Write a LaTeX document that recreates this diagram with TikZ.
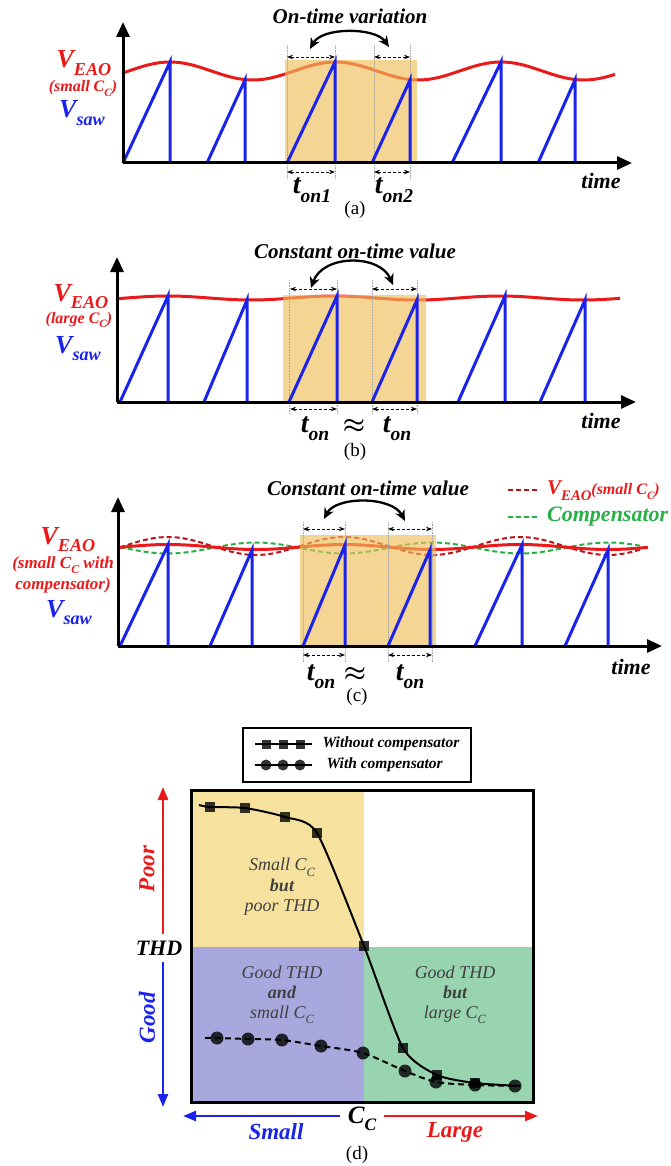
\documentclass[tikz,border=0pt]{standalone}
\usepackage{fontspec}
\setmainfont{Liberation Serif}
\usetikzlibrary{arrows.meta}

\definecolor{eaored}{RGB}{235,25,25}
\definecolor{sawblue}{RGB}{25,35,235}
\definecolor{onyellow}{RGB}{240,190,90}
\definecolor{darkred}{RGB}{185,20,25}
\definecolor{compgreen}{RGB}{40,175,70}
\definecolor{regyellow}{RGB}{246,226,158}
\definecolor{regblue}{RGB}{168,168,222}
\definecolor{reggreen}{RGB}{152,212,176}

\newcommand{\dn}[1]{\raisebox{-0.3em}{\scalebox{0.7}{#1}}}
\newcommand{\fs}[1]{\fontsize{#1}{#1}\selectfont}

\begin{document}
\begin{tikzpicture}[
    x=1pt, y=-1pt,
    axis/.style={line width=3pt, -{Triangle[length=15pt,width=13pt]}},
    saw/.style={draw=sawblue, line width=3pt},
    eao/.style={draw=eaored, line width=3pt},
    onbox/.style={fill=onyellow, fill opacity=0.65},
    guide/.style={draw=gray!70, densely dotted, line width=0.6pt},
    ton/.style={densely dashed, line width=0.9pt, {Stealth[length=6pt]}-{Stealth[length=6pt]}},
    swing/.style={line width=2.3pt, {Stealth[length=11pt,width=10pt]}-{Stealth[length=11pt,width=10pt]}},
    ttl/.style={font=\fs{21}\bfseries\itshape},
    vlab/.style={font=\fs{26}\bfseries\itshape, anchor=base},
    clab/.style={font=\fs{16}\bfseries\itshape, align=center, anchor=base},
    tlab/.style={font=\fs{28}\bfseries\itshape, anchor=base},
    apx/.style={font=\fs{30}\boldmath, anchor=base},
    timelab/.style={font=\fs{22}\bfseries\itshape},
    sublab/.style={font=\fs{19}},
    regtext/.style={font=\fs{18}\itshape, text=black!75, align=center},
    sidelab/.style={font=\fs{23}\bfseries\itshape},
    dir/.style={line width=2.5pt, -{Triangle[length=13pt,width=10pt]}},
    sqmark/.style={fill=black, fill opacity=0.8, minimum size=10pt, inner sep=0pt},
    cmark/.style={circle, fill=black, fill opacity=0.8, minimum size=13pt, inner sep=0pt},
  ]
  \useasboundingbox (0,0) rectangle (670,1166);

  % ============ (a) small C_C ============
  \draw[eao] plot[domain=123:615, samples=120] (\x, {71-9*cos(360/165.5*(\x-170))});
  \fill[onbox] (285,60) rectangle (417,163);
  \foreach \g in {287,335,374,410}
    \draw[guide] (\g,45) -- (\g,178);
  \foreach \a/\b/\c in {123/170/62, 207/245/80, 287/335/62, 372/410/80, 452/501/62, 538/575/80}
    \draw[saw] (\a,163) -- (\b,\c) -- (\b,163);
  \draw[axis] (123,163) -- (123,22);
  \draw[axis] (123,163) -- (632,163);
  \draw[ton] (287,57) -- (335,57);
  \draw[ton] (374,57) -- (410,57);
  \draw[ton] (287,172) -- (335,172);
  \draw[ton] (374,172) -- (410,172);
  \draw[swing] (310,49) .. controls (322,27) and (375,27) .. (389,47);
  \node[ttl] (titA) at (350,16) {On-time variation};
  \node[vlab, text=eaored] (eaoA) at (84,68) {V\dn{EAO}};
  \node[clab, text=eaored] (ccA) at (83,92) {(small C\dn{C})};
  \node[vlab, text=sawblue] (sawA) at (82,118) {V\dn{saw}};
  \node[tlab] (ton1) at (312,194) {t\dn{on1}};
  \node[tlab] (ton2) at (394,194) {t\dn{on2}};
  \node[timelab] (timeA) at (601,181) {time};
  \node[sublab] (capA) at (355,210) {(a)};

  % ============ (b) large C_C ============
  \draw[eao] plot[domain=117:620, samples=120] (\x, {298-2*cos(360/166*(\x-168))});
  \fill[onbox] (283,295) rectangle (426,402);
  \foreach \g in {289,337,372,417}
    \draw[guide] (\g,280) -- (\g,414);
  \foreach \a/\b/\c in {120/168/296, 204/247/300, 289/337/296, 372/417/300, 458/505/296, 540/585/300}
    \draw[saw] (\a,402) -- (\b,\c) -- (\b,402);
  \draw[axis] (117,402) -- (117,257);
  \draw[axis] (117,402) -- (636,402);
  \draw[ton] (290,289) -- (337,289);
  \draw[ton] (372,289) -- (417,289);
  \draw[ton] (290,409) -- (337,409);
  \draw[ton] (372,409) -- (417,409);
  \draw[swing] (311,288) .. controls (323,254) and (380,254) .. (393,285);
  \node[ttl] (titB) at (355,251) {Constant on-time value};
  \node[vlab, text=eaored] (eaoB) at (81,301) {V\dn{EAO}};
  \node[clab, text=eaored] (ccB) at (79,323) {(large C\dn{C})};
  \node[vlab, text=sawblue] (sawB) at (78,353) {V\dn{saw}};
  \node[tlab] (tonB1) at (315,432) {t\dn{on}};
  \node[apx] (apxB) at (354,432) {$\approx$};
  \node[tlab] (tonB2) at (397,432) {t\dn{on}};
  \node[timelab] (timeB) at (601,421) {time};
  \node[sublab] (capB) at (355,452) {(b)};

  % ============ (c) small C_C with compensator ============
  \draw[darkred, line width=2pt, dash pattern=on 5pt off 3pt]
    plot[domain=120:640, samples=120] (\x, {546-9*cos(360/176*(\x-168))});
  \draw[compgreen, line width=2pt, dash pattern=on 5pt off 3pt]
    plot[domain=120:640, samples=120] (\x, {548+5.5*cos(360/176*(\x-168))});
  \draw[eao] plot[domain=118:648, samples=120] (\x, {547-2.5*cos(360/176*(\x-168))});
  \fill[onbox] (300,535) rectangle (436,646);
  \foreach \g in {303,345,388,432}
    \draw[guide] (\g,522) -- (\g,662);
  \foreach \a/\b/\c in {120/168/545, 210/252/550, 303/345/545, 388/430/550, 475/522/545, 565/608/550}
    \draw[saw] (\a,646) -- (\b,\c) -- (\b,646);
  \draw[axis] (118,646) -- (118,497);
  \draw[axis] (118,646) -- (662,646);
  \draw[ton] (303,529) -- (345,529);
  \draw[ton] (388,529) -- (432,529);
  \draw[ton] (303,655) -- (345,655);
  \draw[ton] (388,655) -- (432,655);
  \draw[swing] (324,519) .. controls (336,496) and (392,496) .. (405,521);
  \node[ttl] (titC) at (368,488) {Constant on-time value};
  \coordinate (legC1) at (508,490);
  \coordinate (legC2) at (508,517);
  \draw[darkred, line width=2pt, dash pattern=on 5pt off 3pt] (legC1) -- ++(32,0);
  \draw[compgreen, line width=2pt, dash pattern=on 5pt off 3pt] (legC2) -- ++(32,0);
  \node[anchor=west, font=\fs{21}\bfseries\itshape, text=eaored, inner sep=0pt] (legEao) at (547,491)
    {V\dn{EAO}{\fs{16}(small C\dn{C})}};
  \node[anchor=west, font=\fs{22}\bfseries\itshape, text=compgreen, inner sep=0pt] (legComp) at (547,517)
    {Compensator};
  \node[vlab, text=eaored] (eaoC) at (68,544) {V\dn{EAO}};
  \node[clab, text=eaored, font=\fs{17}\bfseries\itshape, anchor=center] (ccC) at (63,575)
    {(small C\dn{C} with\\[3pt]compensator)};
  \node[vlab, text=sawblue] (sawC) at (69,617) {V\dn{saw}};
  \node[tlab] (tonC1) at (321,680) {t\dn{on}};
  \node[apx] (apxC) at (355,680) {$\approx$};
  \node[tlab] (tonC2) at (410,680) {t\dn{on}};
  \node[timelab] (timeC) at (631,667) {time};
  \node[sublab] (capC) at (357,697) {(c)};

  % ============ (d) THD versus C_C ============
  \node[draw, line width=1.5pt, minimum width=228pt, minimum height=54pt] (legD) at (357,755) {};
  \draw[line width=2pt] (255,744) -- (312,744);
  \foreach \m in {266,283,300} \node[sqmark, minimum size=9pt] at (\m,744) {};
  \draw[line width=2pt] (255,765) -- (312,765);
  \foreach \m in {266,283,300} \node[cmark, minimum size=11pt] at (\m,765) {};
  \node[anchor=west, font=\fs{15.5}\bfseries\itshape] (legWo) at (319,744) {Without compensator};
  \node[anchor=west, font=\fs{15.5}\bfseries\itshape] (legW) at (323,765) {With compensator};

  \fill[regyellow] (191,790) rectangle (364,947);
  \fill[regblue] (191,947) rectangle (364,1102);
  \fill[reggreen] (364,947) rectangle (533,1102);
  \draw[line width=3pt] (191,790) rectangle (533,1102);

  \node[regtext] (regSm) at (282,887) {Small C\dn{C}\\[2pt]\textbf{but}\\[2pt]poor THD};
  \node[regtext] (regGa) at (282,995) {Good THD\\[2pt]\textbf{and}\\[2pt]small C\dn{C}};
  \node[regtext] (regGb) at (455,995) {Good THD\\[2pt]\textbf{but}\\[2pt]large C\dn{C}};

  \draw[line width=2pt] plot[smooth, tension=0.4] coordinates
    {(199,805) (210,807) (245,808) (285,817) (317,833) (364,946) (403,1048) (437,1075) (475,1083) (520,1086)};
  \draw[line width=2pt, dash pattern=on 6pt off 4pt] plot[smooth, tension=0.45] coordinates
    {(205,1038) (217,1038) (248,1039) (282,1040) (321,1046) (363,1053) (405,1071) (436,1082) (475,1085) (520,1086)};
  \foreach \px/\py in {210/807, 245/808, 285/817, 317/833, 364/946, 403/1048, 437/1075, 475/1083}
    \node[sqmark] at (\px,\py) {};
  \foreach \px/\py in {217/1038, 248/1039, 282/1040, 321/1046, 363/1053, 405/1071, 436/1082, 475/1085, 515/1086}
    \node[cmark] at (\px,\py) {};

  \coordinate (poorS) at (163,934);
  \coordinate (poorE) at (163,787);
  \coordinate (goodS) at (163,962);
  \coordinate (goodE) at (163,1107);
  \draw[dir, eaored] (poorS) -- (poorE);
  \draw[dir, sawblue] (goodS) -- (goodE);
  \node[sidelab, text=eaored, rotate=90] (poor) at (147,869) {Poor};
  \node[sidelab, text=sawblue, rotate=90] (good) at (147,1018) {Good};
  \node[sidelab, font=\fs{22}\bfseries\itshape] (thd) at (159,948) {THD};

  \node[font=\fs{25}\bfseries\itshape] (cc) at (362,1119) {C\dn{C}};
  \draw[dir, sawblue] (cc.west) ++(-4,-3) coordinate (smS) -- (183,1116);
  \draw[dir, eaored] (cc.east) ++(4,-3) coordinate (lgS) -- (538,1116);
  \node[sidelab, text=sawblue] (small) at (276,1132) {Small};
  \node[sidelab, text=eaored] (large) at (455,1132) {Large};
  \node[sublab] (capD) at (357,1155) {(d)};

\end{tikzpicture}
\end{document}
